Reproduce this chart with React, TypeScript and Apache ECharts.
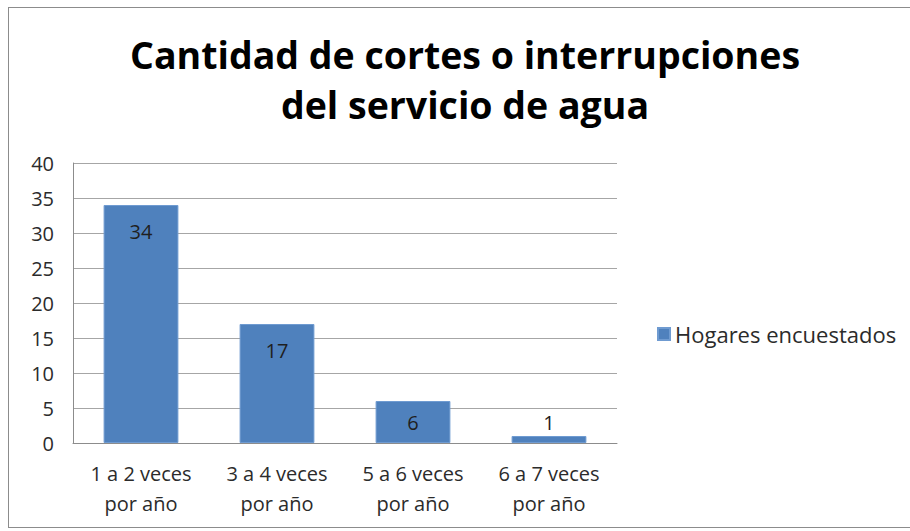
import React, { useEffect, useRef } from "react";
import * as echarts from "echarts";

const titleLines = ["Cantidad de cortes o interrupciones", "del servicio de agua"];
const categories = ["1 a 2 veces\npor año", "3 a 4 veces\npor año", "5 a 6 veces\npor año", "6 a 7 veces\npor año"];
const seriesName = "Hogares encuestados";
const values = [34, 17, 6, 1];
const yMin = 0;
const yMax = 40;
const yStep = 5;

export default function App() {
  const ref = useRef<HTMLDivElement>(null);
  useEffect(() => {
    if (!ref.current) return;
    const chart = echarts.init(ref.current, null, { renderer: "svg" });
    const font = "'Open Sans', sans-serif";
    const barData = values.map((v) => {
      if (v >= 10) return { value: v, label: { position: "insideTop", distance: 16 } };
      if (v >= 3) return { value: v, label: { position: "inside" } };
      return { value: v, label: { position: "top", distance: 4 } };
    });
    chart.setOption({
      animation: false,
      backgroundColor: "#ffffff",
      title: {
        text: titleLines.join("\n"),
        left: 451,
        textAlign: "center",
        top: 16,
        textStyle: {
          fontFamily: font,
          fontWeight: "bold",
          fontSize: 37.5,
          lineHeight: 50,
          color: "#000000",
        },
      },
      legend: {
        left: 643,
        top: 310,
        orient: "vertical",
        itemWidth: 12,
        itemHeight: 12,
        itemGap: 4,
        icon: "rect",
        textStyle: { fontFamily: font, fontSize: 22, color: "#2b2b2b" },
        data: [seriesName],
      },
      grid: { left: 64, right: 300, top: 155, bottom: 84, containLabel: false },
      xAxis: {
        type: "category",
        data: categories,
        axisLine: { show: true, lineStyle: { color: "#8c8c8c", width: 1 } },
        axisTick: { show: false },
        axisLabel: {
          fontFamily: font,
          fontSize: 20,
          lineHeight: 30,
          color: "#2b2b2b",
          margin: 15,
          interval: 0,
        },
      },
      yAxis: {
        type: "value",
        min: yMin,
        max: yMax,
        interval: yStep,
        axisLine: { show: true, lineStyle: { color: "#8c8c8c", width: 1 } },
        axisTick: { show: false },
        splitLine: { show: true, lineStyle: { color: "#a6a6a6", width: 1 } },
        axisLabel: {
          fontFamily: font,
          fontSize: 20,
          color: "#2b2b2b",
          margin: 19,
        },
      },
      series: [
        {
          name: seriesName,
          type: "bar",
          data: barData,
          barWidth: "55%",
          itemStyle: { color: "#4f81bd", borderColor: "#6f9bd1", borderWidth: 1 },
          label: {
            show: true,
            fontFamily: font,
            fontSize: 20,
            color: "#1f1f1f",
          },
        },
      ],
    });
    return () => chart.dispose();
  }, []);
  return (
    <div
      style={{
        position: "absolute",
        left: 8,
        top: 7,
        width: 910,
        height: 521,
        border: "1px solid #8c8c8c",
        boxSizing: "border-box",
        background: "#ffffff",
      }}
    >
      <div ref={ref} style={{ width: 908, height: 519 }} />
    </div>
  );
}
